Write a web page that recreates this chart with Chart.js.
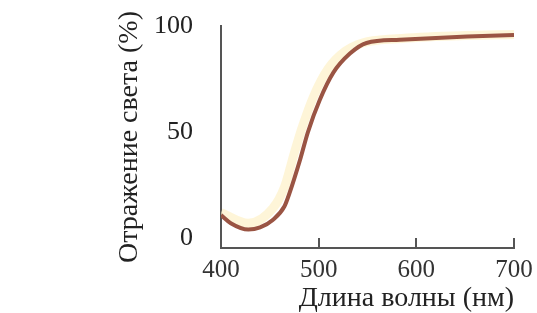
<!DOCTYPE html>
<html>
<head>
<meta charset="utf-8">
<script src="https://cdn.jsdelivr.net/npm/chart.js@4/dist/chart.umd.min.js"></script>
<style>
  html, body { margin: 0; padding: 0; background: #fff; }
  #box { width: 537px; height: 313px; }
</style>
</head>
<body>
<div id="box"><canvas id="lineChart"></canvas></div>
<script>
//длина волны, нм
var wavelengths = [400, 410, 428, 440, 453, 465, 470, 481, 489, 501, 515, 532, 549, 583, 652, 700];
//отражение, %
var reflectance = [10.8, 7, 4, 5, 8.5, 15, 21, 37, 50, 65, 78, 87, 92, 93.5, 95, 95.8];
//светлый ореол слева от кривой
var glowWavelengths = [400, 428, 453, 465, 475, 483, 495, 510, 527, 545, 580, 650, 700];
var glowReflectance = [12, 7, 14, 24, 40, 52, 67, 80, 88, 92, 94, 95.5, 96];

var xTicks = [400, 500, 600, 700];
var yTicks = [0, 50, 100];

function toPoints(xs, ys){
	var pts = [];
	for (var i = 0; i < xs.length; i++) {
		pts.push({x: xs[i], y: ys[i]});
	}
	return pts;
}

var serif = 'Liberation Serif';

var lineChart = new Chart(document.getElementById('lineChart').getContext('2d'), {
	type: 'line',
	data: {
		datasets: [
			{
				data: toPoints(wavelengths, reflectance),
				borderColor: '#9a5443',
				borderWidth: 4,
				pointRadius: 0,
				cubicInterpolationMode: 'monotone',
				fill: false
			},
			{
				data: toPoints(glowWavelengths, glowReflectance),
				borderColor: 'rgba(253,240,195,0.65)',
				borderWidth: 9,
				pointRadius: 0,
				cubicInterpolationMode: 'monotone',
				fill: false
			}
		]
	},
	options: {
		responsive: true,
		maintainAspectRatio: false,
		animation: false,
		layout: { padding: { left: 113, top: 26, right: 23, bottom: 0 } },
		plugins: { legend: { display: false }, tooltip: { enabled: false } },
		scales: {
			x: {
				type: 'linear',
				min: 400,
				max: 700,
				afterBuildTicks: function(axis){ axis.ticks = xTicks.map(function(v){ return {value: v}; }); },
				afterFit: function(axis){ axis.height = 65; axis.paddingLeft = 0; axis.paddingRight = 0; },
				grid: { drawOnChartArea: false, tickLength: -10, color: '#555', lineWidth: 2 },
				border: { color: '#555', width: 2 },
				ticks: { color: '#333', padding: 17, font: { family: serif, size: 25 } },
				title: {
					display: true,
					text: 'Длина волны (нм)',
					align: 'end',
					color: '#222',
					padding: { top: 3, bottom: 0 },
					font: { family: serif, size: 28, lineHeight: 1 }
				}
			},
			y: {
				min: -4.7,
				max: 100,
				afterBuildTicks: function(axis){ axis.ticks = yTicks.map(function(v){ return {value: v}; }); },
				afterFit: function(axis){ axis.width = 108; axis.paddingTop = 0; axis.paddingBottom = 0; },
				grid: { display: true, drawOnChartArea: false, drawTicks: false },
				border: { color: '#555', width: 2 },
				ticks: { color: '#222', padding: 28, font: { family: serif, size: 26 } },
				title: {
					display: true,
					text: 'Отражение света (%)',
					color: '#222',
					padding: { top: 0, bottom: 6 },
					font: { family: serif, size: 28 }
				}
			}
		}
	}
});
</script>
</body>
</html>
